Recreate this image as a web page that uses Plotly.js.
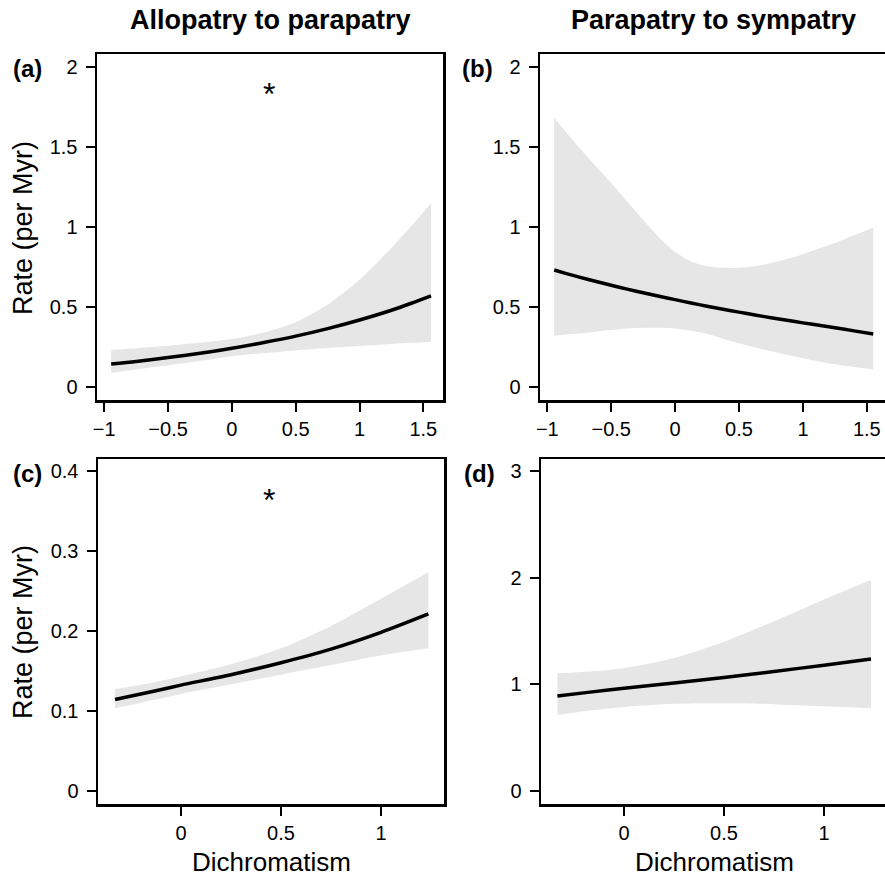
<!DOCTYPE html>
<html>
<head>
<meta charset="utf-8">
<script src="https://cdn.plot.ly/plotly-3.0.1.min.js"></script>
<style>html,body{margin:0;padding:0;background:#fff;}#chart{width:885px;height:880px;}</style>
</head>
<body>
<div id="chart"></div>
<script>
// ---- Data ----
const columnTitles = ["Allopatry to parapatry", "Parapatry to sympatry"];
const panelLabels = ["(a)", "(b)", "(c)", "(d)"];
const xTitle = "Dichromatism";
const yTitle = "Rate (per Myr)";

// Panel (a)
const xA = [-0.946, -0.75, -0.5, -0.25, 0, 0.25, 0.5, 0.75, 1, 1.25, 1.4, 1.56];
const meanA = [0.144, 0.160, 0.184, 0.211, 0.242, 0.278, 0.318, 0.365, 0.419, 0.480, 0.522, 0.570];
const upperA = [0.231, 0.243, 0.258, 0.276, 0.300, 0.340, 0.405, 0.515, 0.670, 0.870, 1.000, 1.150];
const lowerA = [0.090, 0.110, 0.136, 0.163, 0.192, 0.212, 0.229, 0.244, 0.257, 0.269, 0.276, 0.283];

// Panel (b)
const xB = [-0.946, -0.85, -0.75, -0.625, -0.5, -0.375, -0.25, -0.125, 0, 0.125, 0.25, 0.375, 0.5, 0.625, 0.75, 0.875, 1, 1.125, 1.25, 1.4, 1.55];
const meanB = [0.731, 0.709, 0.687, 0.661, 0.636, 0.612, 0.589, 0.567, 0.546, 0.525, 0.505, 0.486, 0.468, 0.450, 0.433, 0.417, 0.401, 0.386, 0.371, 0.351, 0.332];
const upperB = [1.683, 1.590, 1.495, 1.385, 1.275, 1.160, 1.045, 0.935, 0.845, 0.785, 0.755, 0.745, 0.745, 0.755, 0.775, 0.800, 0.830, 0.865, 0.900, 0.948, 0.996];
const lowerB = [0.321, 0.328, 0.335, 0.346, 0.356, 0.365, 0.370, 0.370, 0.365, 0.352, 0.333, 0.302, 0.273, 0.247, 0.224, 0.202, 0.180, 0.160, 0.142, 0.125, 0.110];

// Panel (c)
const xC = [-0.33, -0.125, 0, 0.25, 0.5, 0.75, 1, 1.237];
const meanC = [0.114, 0.125, 0.132, 0.145, 0.160, 0.177, 0.198, 0.221];
const upperC = [0.127, 0.136, 0.143, 0.158, 0.178, 0.206, 0.240, 0.273];
const lowerC = [0.103, 0.114, 0.121, 0.133, 0.145, 0.157, 0.169, 0.178];

// Panel (d)
const xD = [-0.333, -0.17, 0, 0.25, 0.5, 0.75, 1, 1.235];
const meanD = [0.889, 0.925, 0.961, 1.010, 1.063, 1.119, 1.178, 1.236];
const upperD = [1.101, 1.118, 1.150, 1.245, 1.398, 1.590, 1.795, 1.977];
const lowerD = [0.710, 0.752, 0.785, 0.815, 0.820, 0.812, 0.792, 0.773];

// Significance markers
const starA = {x: 0.293, y: 1.83};
const starC = {x: 0.4415, y: 0.364};

// Tick values / labels
const xTicksTop = [-1, -0.5, 0, 0.5, 1, 1.5];
const xTickTextTop = ["\u22121", "\u22120.5", "0", "0.5", "1", "1.5"];
const xTicksBottom = [0, 0.5, 1];
const xTickTextBottom = ["0", "0.5", "1"];
const yTicksTop = [0, 0.5, 1, 1.5, 2];
const yTickTextTop = ["0", "0.5", "1", "1.5", "2"];
const yTicksC = [0, 0.1, 0.2, 0.3, 0.4];
const yTickTextC = ["0", "0.1", "0.2", "0.3", "0.4"];
const yTicksD = [0, 1, 2, 3];
const yTickTextD = ["0", "1", "2", "3"];

// ---- Build ----
const FONT = "Liberation Sans, Arial, Helvetica, sans-serif";
const BAND = "rgb(230,230,230)";
const W = 885, H = 880;
const px = v => v / W;
const py = v => 1 - v / H;

function panel(x, mean, upper, lower, xa, ya) {
  const edge = {width: 0, color: "rgba(0,0,0,0)", shape: "spline", smoothing: 0.8};
  return [
    {x: x, y: lower, xaxis: xa, yaxis: ya, mode: "lines", line: edge, hoverinfo: "skip", showlegend: false},
    {x: x, y: upper, xaxis: xa, yaxis: ya, mode: "lines", fill: "tonexty", fillcolor: BAND, line: edge, hoverinfo: "skip", showlegend: false},
    {x: x, y: mean, xaxis: xa, yaxis: ya, mode: "lines", line: {width: 3.5, color: "black", shape: "spline", smoothing: 0.8}, hoverinfo: "skip", showlegend: false}
  ];
}

const data = [].concat(
  panel(xA, meanA, upperA, lowerA, "x", "y"),
  panel(xB, meanB, upperB, lowerB, "x2", "y2"),
  panel(xC, meanC, upperC, lowerC, "x3", "y3"),
  panel(xD, meanD, upperD, lowerD, "x4", "y4")
);

const TICKSIZE = 20;
function xaxis(domain, range, tv, tt, anchor) {
  return {domain: domain, range: range, anchor: anchor, tickmode: "array", tickvals: tv, ticktext: tt,
    ticks: "outside", ticklen: 9, tickwidth: 2, tickcolor: "black",
    showline: true, mirror: true, linewidth: 2.5, linecolor: "black",
    showgrid: false, zeroline: false, fixedrange: true, ticklabelstandoff: 0,
    tickfont: {family: FONT, size: TICKSIZE, color: "black"}};
}
function yaxis(domain, range, tv, tt, anchor) {
  return {domain: domain, range: range, anchor: anchor, tickmode: "array", tickvals: tv, ticktext: tt,
    ticks: "outside", ticklen: 9, tickwidth: 2, tickcolor: "black",
    showline: true, mirror: true, linewidth: 2.5, linecolor: "black",
    showgrid: false, zeroline: false, fixedrange: true, ticklabelstandoff: 4,
    tickfont: {family: FONT, size: TICKSIZE, color: "black"}};
}

const domTop = [py(400), py(54)];
const domBot = [py(804), py(459)];

const layout = {
  width: W, height: H,
  margin: {l: 0, r: 0, t: 0, b: 0},
  paper_bgcolor: "white", plot_bgcolor: "white",
  showlegend: false, hovermode: false,
  font: {family: FONT, color: "black"},
  xaxis:  xaxis([px(97), px(443)], [-1.057, 1.654], xTicksTop, xTickTextTop, "y"),
  yaxis:  yaxis(domTop, [-0.081, 2.081], yTicksTop, yTickTextTop, "x"),
  xaxis2: xaxis([px(540), 1], [-1.057, 1.642], xTicksTop, xTickTextTop, "y2"),
  yaxis2: yaxis(domTop, [-0.081, 2.081], yTicksTop, yTickTextTop, "x2"),
  xaxis3: xaxis([px(98), px(444)], [-0.415, 1.315], xTicksBottom, xTickTextBottom, "y3"),
  yaxis3: yaxis(domBot, [-0.0167, 0.4148], yTicksC, yTickTextC, "x3"),
  xaxis4: xaxis([px(541), 1], [-0.415, 1.305], xTicksBottom, xTickTextBottom, "y4"),
  yaxis4: yaxis(domBot, [-0.125, 3.113], yTicksD, yTickTextD, "x4"),
  annotations: [
    {text: "<b>" + columnTitles[0] + "</b>", x: px(270), y: py(20), xref: "paper", yref: "paper", showarrow: false, xanchor: "center", yanchor: "middle", font: {family: FONT, size: 27, color: "black"}},
    {text: "<b>" + columnTitles[1] + "</b>", x: px(713), y: py(20), xref: "paper", yref: "paper", showarrow: false, xanchor: "center", yanchor: "middle", font: {family: FONT, size: 27, color: "black"}},
    {text: "<b>" + panelLabels[0] + "</b>", x: px(27), y: py(69), xref: "paper", yref: "paper", showarrow: false, xanchor: "center", yanchor: "middle", font: {family: FONT, size: 24, color: "black"}},
    {text: "<b>" + panelLabels[1] + "</b>", x: px(477), y: py(69), xref: "paper", yref: "paper", showarrow: false, xanchor: "center", yanchor: "middle", font: {family: FONT, size: 24, color: "black"}},
    {text: "<b>" + panelLabels[2] + "</b>", x: px(27), y: py(473), xref: "paper", yref: "paper", showarrow: false, xanchor: "center", yanchor: "middle", font: {family: FONT, size: 24, color: "black"}},
    {text: "<b>" + panelLabels[3] + "</b>", x: px(479), y: py(473), xref: "paper", yref: "paper", showarrow: false, xanchor: "center", yanchor: "middle", font: {family: FONT, size: 24, color: "black"}},
    {text: yTitle, x: px(23), y: py(228), xref: "paper", yref: "paper", showarrow: false, textangle: -90, xanchor: "center", yanchor: "middle", font: {family: FONT, size: 27, color: "black"}},
    {text: yTitle, x: px(23), y: py(632), xref: "paper", yref: "paper", showarrow: false, textangle: -90, xanchor: "center", yanchor: "middle", font: {family: FONT, size: 27, color: "black"}},
    {text: xTitle, x: px(271), y: py(862), xref: "paper", yref: "paper", showarrow: false, xanchor: "center", yanchor: "middle", font: {family: FONT, size: 26, color: "black"}},
    {text: xTitle, x: px(714), y: py(862), xref: "paper", yref: "paper", showarrow: false, xanchor: "center", yanchor: "middle", font: {family: FONT, size: 26, color: "black"}},
    {text: "*", x: starA.x, y: starA.y, xref: "x", yref: "y", showarrow: false, xanchor: "center", yanchor: "middle", font: {family: FONT, size: 32, color: "black"}},
    {text: "*", x: starC.x, y: starC.y, xref: "x3", yref: "y3", showarrow: false, xanchor: "center", yanchor: "middle", font: {family: FONT, size: 32, color: "black"}}
  ]
};

Plotly.newPlot("chart", data, layout, {displayModeBar: false, staticPlot: true});
</script>
</body>
</html>
